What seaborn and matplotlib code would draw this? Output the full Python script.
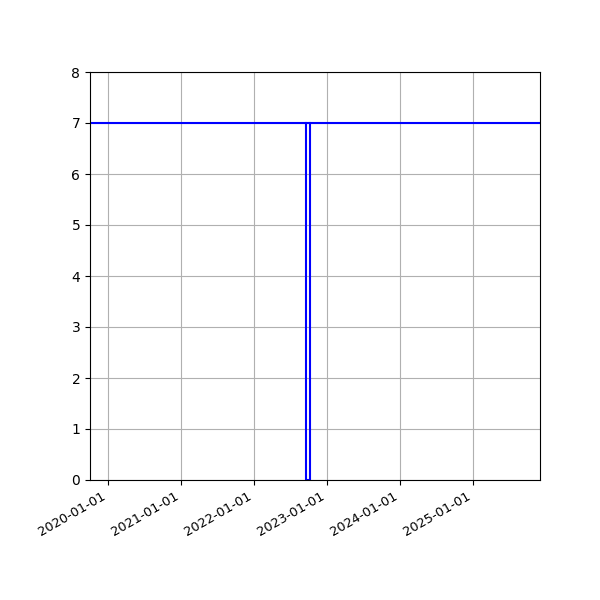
import matplotlib
matplotlib.use("Agg")
import matplotlib.pyplot as plt
import matplotlib.dates as mdates
import seaborn as sns
import pandas as pd

# continuous level series
level_dates = ["2019-10-03", "2025-12-01"]
level_values = [7, 7]

# dip series
dip_dates = ["2022-09-17", "2022-09-17", "2022-10-09", "2022-10-09"]
dip_values = [7, 0, 0, 7]

level = pd.DataFrame({"date": pd.to_datetime(level_dates), "value": level_values})
dip = pd.DataFrame({"date": pd.to_datetime(dip_dates), "value": dip_values})

fig, ax = plt.subplots(figsize=(6, 6), dpi=100)
sns.lineplot(data=level, x="date", y="value", ax=ax, color="blue", linewidth=1.5)
sns.lineplot(data=dip, x="date", y="value", ax=ax, color="blue", linewidth=1.5,
             sort=False, estimator=None)
ax.set_xlim(level["date"].min(), level["date"].max())
ax.set_ylim(0, 8)
ax.grid(True)
ax.set_xlabel("")
ax.set_ylabel("")
ax.xaxis.set_major_locator(mdates.YearLocator())
ax.xaxis.set_major_formatter(mdates.DateFormatter("%Y-%m-%d"))
fig.autofmt_xdate()
for lbl in ax.get_xticklabels():
    lbl.set_fontsize(9.4)
fig.subplots_adjust(left=0.15, right=0.9, top=0.88, bottom=0.2)
fig.savefig("out.png", dpi=100)
